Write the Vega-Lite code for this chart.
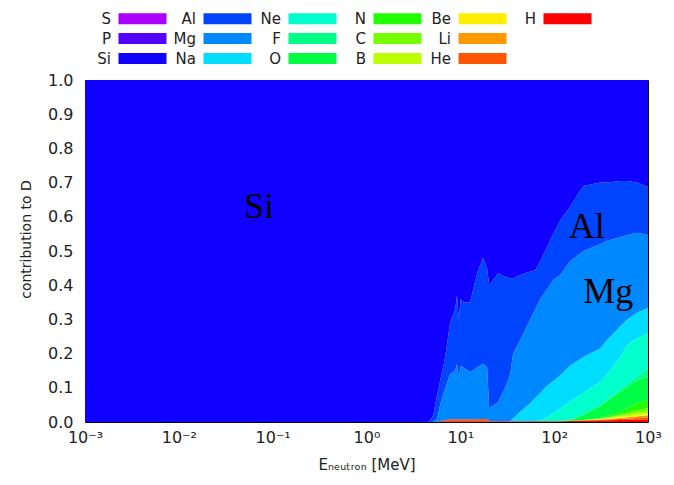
{
 "$schema": "https://vega.github.io/schema/vega-lite/v6.json",
 "width": 563, "height": 342,
 "autosize": {"type": "none"},
 "padding": {"left": 85, "top": 80, "right": 26, "bottom": 63},
 "background": "white",
 "config": {"view": {"stroke": "black", "strokeWidth": 1}, "font": "DejaVu Sans"},
 "datasets": {
  "ranks": [
   {"el": "H", "rank": 1}, {"el": "He", "rank": 2}, {"el": "Li", "rank": 3}, {"el": "Be", "rank": 4},
   {"el": "B", "rank": 5}, {"el": "C", "rank": 6}, {"el": "N", "rank": 7}, {"el": "O", "rank": 8},
   {"el": "F", "rank": 9}, {"el": "Ne", "rank": 10}, {"el": "Na", "rank": 11}, {"el": "Mg", "rank": 12},
   {"el": "Al", "rank": 13}, {"el": "Si", "rank": 14}
  ]
 },
 "layer": [
  {
   "data": {"values": [
    {"E": 0.001, "H": 0, "He": 0, "Li": 0, "Be": 0, "B": 0, "C": 0, "N": 0, "O": 0, "F": 0, "Ne": 0, "Na": 0, "Mg": 0, "Al": 0, "Si": 1},
    {"E": 1, "H": 0, "He": 0, "Li": 0, "Be": 0, "B": 0, "C": 0, "N": 0, "O": 0, "F": 0, "Ne": 0, "Na": 0, "Mg": 0, "Al": 0, "Si": 1},
    {"E": 4.5, "H": 0, "He": 0, "Li": 0, "Be": 0, "B": 0, "C": 0, "N": 0, "O": 0, "F": 0, "Ne": 0, "Na": 0, "Mg": 0, "Al": 0, "Si": 1},
    {"E": 4.77, "H": 0, "He": 0, "Li": 0, "Be": 0, "B": 0, "C": 0, "N": 0, "O": 0, "F": 0, "Ne": 0, "Na": 0, "Mg": 0, "Al": 0.005, "Si": 0.995},
    {"E": 5.13, "H": 0, "He": 0, "Li": 0, "Be": 0, "B": 0, "C": 0, "N": 0, "O": 0, "F": 0, "Ne": 0, "Na": 0, "Mg": 0, "Al": 0.02, "Si": 0.98},
    {"E": 5.66, "H": 0.001, "He": 0, "Li": 0, "Be": 0, "B": 0, "C": 0, "N": 0, "O": 0, "F": 0, "Ne": 0, "Na": 0, "Mg": 0.009, "Al": 0.07, "Si": 0.92},
    {"E": 6.09, "H": 0.002, "He": 0, "Li": 0, "Be": 0, "B": 0, "C": 0, "N": 0, "O": 0, "F": 0, "Ne": 0, "Na": 0, "Mg": 0.048, "Al": 0.07, "Si": 0.88},
    {"E": 6.89, "H": 0.002, "He": 0.004, "Li": 0, "Be": 0, "B": 0, "C": 0, "N": 0, "O": 0, "F": 0, "Ne": 0, "Na": 0, "Mg": 0.094, "Al": 0.09, "Si": 0.81},
    {"E": 7.79, "H": 0.002, "He": 0.006, "Li": 0, "Be": 0, "B": 0, "C": 0, "N": 0, "O": 0, "F": 0, "Ne": 0, "Na": 0, "Mg": 0.132, "Al": 0.15, "Si": 0.71},
    {"E": 8.81, "H": 0.002, "He": 0.006, "Li": 0, "Be": 0, "B": 0, "C": 0, "N": 0, "O": 0, "F": 0, "Ne": 0, "Na": 0, "Mg": 0.142, "Al": 0.18, "Si": 0.67},
    {"E": 9.2, "H": 0.002, "He": 0.006, "Li": 0, "Be": 0, "B": 0, "C": 0, "N": 0, "O": 0, "F": 0, "Ne": 0, "Na": 0, "Mg": 0.162, "Al": 0.2, "Si": 0.63},
    {"E": 9.6, "H": 0.002, "He": 0.006, "Li": 0, "Be": 0, "B": 0, "C": 0, "N": 0, "O": 0, "F": 0, "Ne": 0, "Na": 0, "Mg": 0.122, "Al": 0.17, "Si": 0.7},
    {"E": 10.1, "H": 0.002, "He": 0.006, "Li": 0, "Be": 0, "B": 0, "C": 0, "N": 0, "O": 0, "F": 0, "Ne": 0, "Na": 0, "Mg": 0.157, "Al": 0.195, "Si": 0.64},
    {"E": 10.7, "H": 0.002, "He": 0.006, "Li": 0, "Be": 0, "B": 0, "C": 0, "N": 0, "O": 0, "F": 0, "Ne": 0, "Na": 0, "Mg": 0.152, "Al": 0.19, "Si": 0.65},
    {"E": 12.7, "H": 0.002, "He": 0.006, "Li": 0, "Be": 0, "B": 0, "C": 0, "N": 0, "O": 0, "F": 0, "Ne": 0, "Na": 0, "Mg": 0.138, "Al": 0.204, "Si": 0.65},
    {"E": 15.1, "H": 0.002, "He": 0.006, "Li": 0, "Be": 0, "B": 0, "C": 0, "N": 0, "O": 0, "F": 0, "Ne": 0, "Na": 0, "Mg": 0.152, "Al": 0.275, "Si": 0.565},
    {"E": 17.5, "H": 0.002, "He": 0.007, "Li": 0, "Be": 0, "B": 0, "C": 0, "N": 0, "O": 0, "F": 0, "Ne": 0, "Na": 0, "Mg": 0.161, "Al": 0.31, "Si": 0.52},
    {"E": 19.3, "H": 0.002, "He": 0.006, "Li": 0, "Be": 0, "B": 0, "C": 0, "N": 0, "O": 0, "F": 0, "Ne": 0, "Na": 0, "Mg": 0.152, "Al": 0.29, "Si": 0.55},
    {"E": 20.3, "H": 0.002, "He": 0.001, "Li": 0, "Be": 0, "B": 0, "C": 0, "N": 0, "O": 0, "F": 0, "Ne": 0, "Na": 0, "Mg": 0.037, "Al": 0.36, "Si": 0.6},
    {"E": 25.3, "H": 0.002, "He": 0, "Li": 0, "Be": 0, "B": 0, "C": 0, "N": 0, "O": 0, "F": 0, "Ne": 0, "Na": 0, "Mg": 0.056, "Al": 0.377, "Si": 0.565},
    {"E": 30, "H": 0.002, "He": 0, "Li": 0, "Be": 0, "B": 0, "C": 0, "N": 0, "O": 0, "F": 0, "Ne": 0, "Na": 0, "Mg": 0.098, "Al": 0.325, "Si": 0.575},
    {"E": 34, "H": 0.002, "He": 0, "Li": 0, "Be": 0, "B": 0, "C": 0, "N": 0, "O": 0, "F": 0, "Ne": 0, "Na": 0.001, "Mg": 0.137, "Al": 0.28, "Si": 0.58},
    {"E": 36.5, "H": 0.002, "He": 0, "Li": 0, "Be": 0, "B": 0, "C": 0, "N": 0, "O": 0, "F": 0, "Ne": 0, "Na": 0.008, "Mg": 0.19, "Al": 0.22, "Si": 0.58},
    {"E": 43.4, "H": 0.002, "He": 0, "Li": 0, "Be": 0, "B": 0, "C": 0, "N": 0, "O": 0, "F": 0, "Ne": 0, "Na": 0.028, "Mg": 0.21, "Al": 0.19, "Si": 0.57},
    {"E": 55.5, "H": 0.002, "He": 0, "Li": 0, "Be": 0, "B": 0, "C": 0, "N": 0, "O": 0, "F": 0, "Ne": 0, "Na": 0.053, "Mg": 0.245, "Al": 0.14, "Si": 0.56},
    {"E": 62.7, "H": 0.002, "He": 0, "Li": 0, "Be": 0, "B": 0, "C": 0, "N": 0, "O": 0, "F": 0, "Ne": 0, "Na": 0.068, "Mg": 0.26, "Al": 0.114, "Si": 0.556},
    {"E": 71, "H": 0.002, "He": 0, "Li": 0, "Be": 0, "B": 0, "C": 0, "N": 0, "O": 0, "F": 0, "Ne": 0.003, "Na": 0.08, "Mg": 0.275, "Al": 0.11, "Si": 0.53},
    {"E": 80, "H": 0.002, "He": 0, "Li": 0, "Be": 0, "B": 0, "C": 0, "N": 0, "O": 0, "F": 0, "Ne": 0.008, "Na": 0.09, "Mg": 0.28, "Al": 0.12, "Si": 0.5},
    {"E": 97.5, "H": 0.002, "He": 0, "Li": 0, "Be": 0, "B": 0, "C": 0, "N": 0, "O": 0, "F": 0, "Ne": 0.023, "Na": 0.095, "Mg": 0.295, "Al": 0.135, "Si": 0.45},
    {"E": 116, "H": 0.002, "He": 0, "Li": 0, "Be": 0, "B": 0, "C": 0, "N": 0, "O": 0, "F": 0, "Ne": 0.038, "Na": 0.097, "Mg": 0.293, "Al": 0.16, "Si": 0.41},
    {"E": 148, "H": 0.003, "He": 0, "Li": 0, "Be": 0, "B": 0, "C": 0, "N": 0, "O": 0.002, "F": 0.001, "Ne": 0.054, "Na": 0.105, "Mg": 0.305, "Al": 0.16, "Si": 0.37},
    {"E": 204, "H": 0.004, "He": 0.001, "Li": 0, "Be": 0, "B": 0, "C": 0, "N": 0.001, "O": 0.014, "F": 0.005, "Ne": 0.06, "Na": 0.105, "Mg": 0.31, "Al": 0.19, "Si": 0.31},
    {"E": 309, "H": 0.005, "He": 0.001, "Li": 0.001, "Be": 0.001, "B": 0.001, "C": 0.001, "N": 0.002, "O": 0.033, "F": 0.005, "Ne": 0.067, "Na": 0.098, "Mg": 0.305, "Al": 0.18, "Si": 0.3},
    {"E": 367, "H": 0.005, "He": 0.002, "Li": 0.002, "Be": 0.001, "B": 0.002, "C": 0.002, "N": 0.004, "O": 0.042, "F": 0.005, "Ne": 0.075, "Na": 0.1, "Mg": 0.29, "Al": 0.17, "Si": 0.3},
    {"E": 505, "H": 0.006, "He": 0.003, "Li": 0.003, "Be": 0.002, "B": 0.004, "C": 0.004, "N": 0.008, "O": 0.058, "F": 0.006, "Ne": 0.096, "Na": 0.09, "Mg": 0.26, "Al": 0.165, "Si": 0.295},
    {"E": 600, "H": 0.006, "He": 0.004, "Li": 0.004, "Be": 0.002, "B": 0.005, "C": 0.006, "N": 0.013, "O": 0.06, "F": 0.01, "Ne": 0.115, "Na": 0.075, "Mg": 0.247, "Al": 0.158, "Si": 0.295},
    {"E": 767, "H": 0.007, "He": 0.005, "Li": 0.005, "Be": 0.003, "B": 0.006, "C": 0.008, "N": 0.021, "O": 0.068, "F": 0.009, "Ne": 0.113, "Na": 0.075, "Mg": 0.233, "Al": 0.147, "Si": 0.3},
    {"E": 1000, "H": 0.008, "He": 0.006, "Li": 0.006, "Be": 0.003, "B": 0.007, "C": 0.01, "N": 0.024, "O": 0.068, "F": 0.025, "Ne": 0.103, "Na": 0.073, "Mg": 0.214, "Al": 0.14, "Si": 0.313}
   ]},
   "transform": [
    {"fold": ["H", "He", "Li", "Be", "B", "C", "N", "O", "F", "Ne", "Na", "Mg", "Al", "Si"], "as": ["el", "v"]},
    {"lookup": "el", "from": {"data": {"name": "ranks"}, "key": "el", "fields": ["rank"]}}
   ],
   "mark": {"type": "area", "interpolate": "linear"},
   "encoding": {
    "x": {"field": "E", "type": "quantitative",
     "scale": {"type": "log", "domain": [0.001, 1000], "nice": false},
     "axis": {"values": [0.001, 0.01, 0.1, 1, 10, 100, 1000], "grid": false, "ticks": false, "domain": false,
      "labelExpr": "datum.value < 0.005 ? '10⁻³' : datum.value < 0.05 ? '10⁻²' : datum.value < 0.5 ? '10⁻¹' : datum.value < 5 ? '10⁰' : datum.value < 50 ? '10¹' : datum.value < 500 ? '10²' : '10³'",
      "labelFont": "DejaVu Sans", "labelFontSize": 16, "labelColor": "#222", "labelPadding": 7, "labelFlush": false, "labelOverlap": false,
      "title": "Eₙₑᵤₜᵣₒₙ [MeV]", "titleFont": "DejaVu Sans", "titleFontSize": 15, "titleFontWeight": "normal", "titleColor": "#222", "titlePadding": 12}},
    "y": {"field": "v", "type": "quantitative", "stack": "zero",
     "scale": {"domain": [0, 1], "nice": false},
     "axis": {"values": [0, 0.1, 0.2, 0.3, 0.4, 0.5, 0.6, 0.7, 0.8, 0.9, 1], "format": ".1f", "grid": false, "ticks": false, "domain": false,
      "labelFont": "DejaVu Sans", "labelFontSize": 16, "labelColor": "#222", "labelPadding": 12, "labelOverlap": false, "labelFlush": false,
      "title": "contribution to D", "titleFont": "DejaVu Sans", "titleFontSize": 14, "titleFontWeight": "normal", "titleColor": "#222", "titlePadding": 14, "titleY": 159}},
    "color": {"field": "el", "type": "nominal",
     "scale": {
      "domain": ["S", "P", "Si", "Al", "Mg", "Na", "Ne", "F", "O", "N", "C", "B", "Be", "Li", "He", "H", "_"],
      "range": ["#aa00ff", "#5500ff", "#1000ff", "#0044ff", "#0088ff", "#00ddff", "#00ffcc", "#00ff88", "#00ff44", "#22ff00", "#77ff00", "#bbff00", "#ffee00", "#ff9900", "#ff5500", "#ff0000", "#ffffff"]},
     "legend": {"orient": "none", "legendX": 50, "legendY": -69, "title": null, "columns": 6,
      "symbolType": "M-4,-0.92H4V0.92H-4Z", "symbolSize": 144, "symbolStrokeWidth": 0, "symbolOpacity": 1,
      "labelFont": "DejaVu Sans", "labelFontSize": 15, "labelColor": "#222", "labelAlign": "right", "labelOffset": -39,
      "gridAlign": "all", "columnPadding": 6, "rowPadding": 4,
      "labelExpr": "datum.label == '_' ? '' : datum.label"}},
    "order": {"field": "rank", "type": "quantitative"}
   }
  },
  {
   "data": {"values": [
    {"E": 0.0716, "v": 0.596, "t": "Si"},
    {"E": 222, "v": 0.538, "t": "Al"},
    {"E": 377, "v": 0.348, "t": "Mg"}
   ]},
   "mark": {"type": "text", "font": "Liberation Serif", "fontSize": 36, "align": "center", "baseline": "alphabetic", "color": "black"},
   "encoding": {
    "x": {"field": "E", "type": "quantitative",
     "axis": {"values": [0.001, 0.01, 0.1, 1, 10, 100, 1000], "grid": false, "ticks": false, "domain": false,
      "labelExpr": "datum.value < 0.005 ? '10⁻³' : datum.value < 0.05 ? '10⁻²' : datum.value < 0.5 ? '10⁻¹' : datum.value < 5 ? '10⁰' : datum.value < 50 ? '10¹' : datum.value < 500 ? '10²' : '10³'",
      "labelFont": "DejaVu Sans", "labelFontSize": 16, "labelColor": "#222", "labelPadding": 7, "labelFlush": false, "labelOverlap": false,
      "title": "Eₙₑᵤₜᵣₒₙ [MeV]", "titleFont": "DejaVu Sans", "titleFontSize": 15, "titleFontWeight": "normal", "titleColor": "#222", "titlePadding": 12}},
    "y": {"field": "v", "type": "quantitative",
     "axis": {"values": [0, 0.1, 0.2, 0.3, 0.4, 0.5, 0.6, 0.7, 0.8, 0.9, 1], "format": ".1f", "grid": false, "ticks": false, "domain": false,
      "labelFont": "DejaVu Sans", "labelFontSize": 16, "labelColor": "#222", "labelPadding": 12, "labelOverlap": false, "labelFlush": false,
      "title": "contribution to D", "titleFont": "DejaVu Sans", "titleFontSize": 14, "titleFontWeight": "normal", "titleColor": "#222", "titlePadding": 14, "titleY": 159}},
    "text": {"field": "t"}
   }
  }
 ]
}
